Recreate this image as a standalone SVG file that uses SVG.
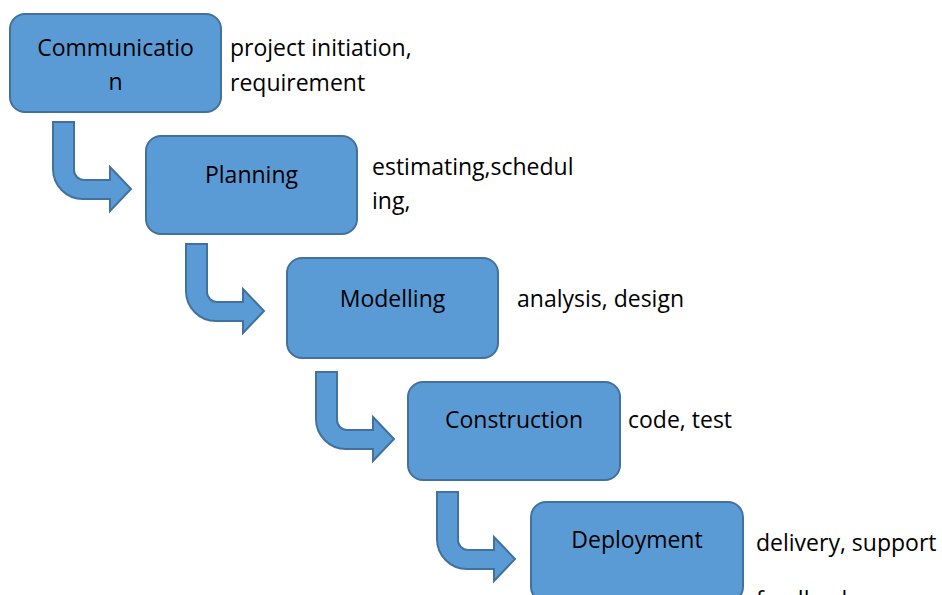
<svg xmlns="http://www.w3.org/2000/svg" width="942" height="595" viewBox="0 0 942 595">
<style>
.box{fill:#5B9BD5;stroke:#41719C;stroke-width:2}
.arr{fill:#5B9BD5;stroke:#41719C;stroke-width:2;stroke-linejoin:miter}
text{font-family:"Open Sans","Liberation Sans",sans-serif;font-size:23px;fill:#000}
.c{text-anchor:middle}
</style>
<defs>
<path id="bend" d="M0,0 H21 V48 A10,10 0 0 0 31,58 H57 V45 L78,67 L57,89 V77 H30 A30,30 0 0 1 0,47 Z"/>
</defs>
<rect width="942" height="595" fill="#fff"/>
<g id="connectors">
<use href="#bend" class="arr" transform="translate(53,122)"/>
<use href="#bend" class="arr" transform="translate(186,244)"/>
<use href="#bend" class="arr" transform="translate(316,372)"/>
<use href="#bend" class="arr" transform="translate(437,492)"/>
</g>
<g id="communication">
<rect class="box" x="10" y="14" width="211" height="98" rx="15"/>
<text class="c" x="115.5" y="56">Communicatio</text>
<text class="c" x="115.5" y="90">n</text>
<text x="230" y="56">project initiation,</text>
<text x="230" y="91">requirement</text>
</g>
<g id="planning">
<rect class="box" x="146" y="136" width="211" height="98" rx="15"/>
<text class="c" x="251.5" y="183">Planning</text>
<text x="372" y="175">estimating,schedul</text>
<text x="372" y="209">ing,</text>
</g>
<g id="modelling">
<rect class="box" x="287" y="258" width="211" height="100" rx="15"/>
<text class="c" x="392.5" y="307">Modelling</text>
<text x="517" y="307">analysis, design</text>
</g>
<g id="construction">
<rect class="box" x="408" y="382" width="212" height="98" rx="15"/>
<text class="c" x="514" y="428">Construction</text>
<text x="628" y="428">code, test</text>
</g>
<g id="deployment">
<rect class="box" x="531" y="502" width="212" height="100" rx="15"/>
<text class="c" x="637" y="548">Deployment</text>
<text x="756" y="551">delivery, support</text>
<text x="756" y="608">feedback</text>
</g>
</svg>
